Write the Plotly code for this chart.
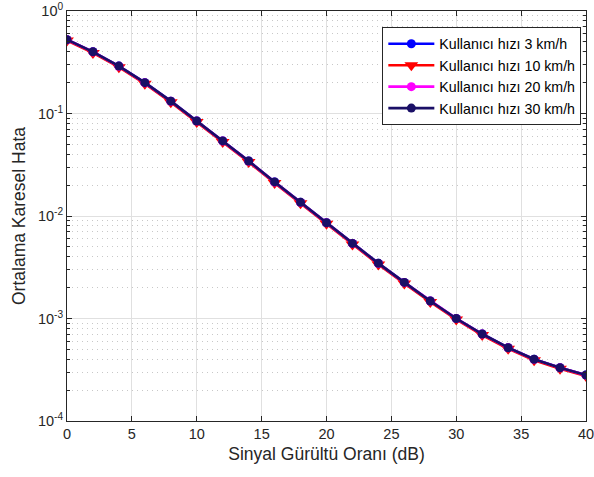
import plotly.graph_objects as go

snr_db = [0, 2, 4, 6, 8, 10, 12, 14, 16, 18, 20, 22, 24, 26, 28, 30, 32, 34, 36, 38, 40]
mse_3 = [0.525, 0.40, 0.29, 0.20, 0.132, 0.0845, 0.054, 0.0344, 0.0215, 0.0136, 0.0086,
         0.0054, 0.00345, 0.00225, 0.00148, 0.00100, 0.000706, 0.000519, 0.000400, 0.000331, 0.000281]
mse_10 = [0.515, 0.39, 0.283, 0.195, 0.129, 0.0826, 0.0528, 0.0336, 0.0210, 0.0133, 0.0084,
          0.00528, 0.00337, 0.00220, 0.00145, 0.000978, 0.000690, 0.000507, 0.000391, 0.000323, 0.000275]
mse_20 = [0.524, 0.399, 0.289, 0.199, 0.1318, 0.0843, 0.0539, 0.0343, 0.0214, 0.01358, 0.00858,
          0.00539, 0.00344, 0.00224, 0.00148, 0.000998, 0.000705, 0.000518, 0.000399, 0.000330, 0.000280]
mse_30 = [0.525, 0.40, 0.29, 0.20, 0.132, 0.0845, 0.054, 0.0344, 0.0215, 0.0136, 0.0086,
          0.0054, 0.00345, 0.00225, 0.00148, 0.00100, 0.000706, 0.000519, 0.000400, 0.000331, 0.000281]

names = ["Kullanıcı hızı 3 km/h", "Kullanıcı hızı 10 km/h",
         "Kullanıcı hızı 20 km/h", "Kullanıcı hızı 30 km/h"]
y_tick_vals = [1e-4, 1e-3, 1e-2, 1e-1, 1e0]
y_tick_text = ["10<sup>-4</sup>", "10<sup>-3</sup>", "10<sup>-2</sup>", "10<sup>-1</sup>", "10<sup>0</sup>"]
x_tick_vals = [0, 5, 10, 15, 20, 25, 30, 35, 40]
y_minor_vals = [m * 10.0 ** e for e in range(-4, 0) for m in range(2, 10)]

series = [
    (mse_3, names[0], "#0000FF", "circle", 9),
    (mse_10, names[1], "#FF0000", "triangle-down", 12),
    (mse_20, names[2], "#FF00FF", "circle", 9),
    (mse_30, names[3], "#1A0F66", "circle", 9),
]

fig = go.Figure()
for ys, nm, col, sym, sz in series:
    fig.add_trace(go.Scatter(
        x=snr_db, y=ys, name=nm, mode="lines+markers",
        line=dict(color=col, width=2.6),
        marker=dict(symbol=sym, size=sz, color=col, line=dict(width=0)),
    ))

axis_col = "#262626"
fig.update_layout(
    width=594, height=477,
    margin=dict(l=67, r=8, t=11, b=56, autoexpand=False),
    paper_bgcolor="white", plot_bgcolor="white",
    font=dict(family="Liberation Sans, Arial, sans-serif", color=axis_col, size=14.5),
    showlegend=True,
    legend=dict(
        x=0.991, y=0.961, xanchor="right", yanchor="top",
        bgcolor="white", bordercolor=axis_col, borderwidth=1,
        font=dict(size=14.2, color="black"),
        tracegroupgap=0, itemwidth=46,
    ),
)
fig.update_xaxes(
    range=[0, 40], tickvals=x_tick_vals, automargin=False,
    showline=True, linecolor=axis_col, linewidth=1, mirror="ticks",
    ticks="inside", ticklen=5, tickcolor=axis_col,
    showgrid=True, gridcolor="#E0E0E0", gridwidth=1, zeroline=False,
    ticklabeloverflow="allow",
    title=dict(text="Sinyal Gürültü Oranı (dB)", font=dict(size=17.5), standoff=6),
    tickfont=dict(size=14.5),
)
fig.update_yaxes(
    type="log", range=[-4, 0], tickvals=y_tick_vals, ticktext=y_tick_text, automargin=False,
    showline=True, linecolor=axis_col, linewidth=1, mirror="ticks",
    ticks="inside", ticklen=5, tickcolor=axis_col,
    showgrid=True, gridcolor="#E0E0E0", gridwidth=1, zeroline=False,
    ticklabeloverflow="allow",
    minor=dict(tickvals=y_minor_vals, ticks="inside", ticklen=3, tickcolor=axis_col,
               showgrid=True, gridcolor="#C8C8C8", griddash="1px,4px", gridwidth=1),
    title=dict(text="Ortalama Karesel Hata", font=dict(size=17.5), standoff=7),
    tickfont=dict(size=14.5),
)

fig.write_html("out.html")
